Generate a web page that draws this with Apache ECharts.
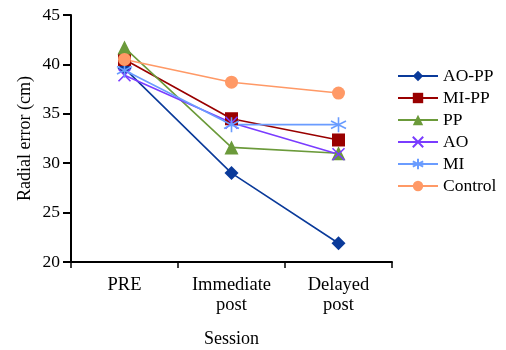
<!DOCTYPE html>
<html>
<head>
<meta charset="utf-8">
<script src="https://cdn.jsdelivr.net/npm/echarts@6/dist/echarts.min.js"></script>
<style>
  html, body { margin: 0; padding: 0; background: #fff; }
  #main { width: 506px; height: 350px; }
</style>
</head>
<body>
<div id="main"></div>
<script>
var sessions = ['PRE', 'Immediate\npost', 'Delayed\npost'];
var aoPP = [39.6, 29.0, 21.9];
var miPP = [40.5, 34.5, 32.35];
var pp = [41.7, 31.6, 31.0];
var ao = [38.9, 34.1, 30.9];
var mi = [39.4, 33.9, 33.9];
var control = [40.5, 38.2, 37.1];
var yTicks = [20, 25, 30, 35, 40, 45];

var crossPath = 'path://M0,0L10,10M10,0L0,10';
var starPath = 'path://M5,0L5,10M0.67,2.5L9.33,7.5M0.67,7.5L9.33,2.5';
var font = '"Liberation Serif", "DejaVu Serif", serif';

function filled(name, data, color, symbol, size) {
  return {
    name: name, type: 'line', data: data,
    symbol: symbol, symbolSize: size,
    lineStyle: { color: color, width: 1.6 },
    itemStyle: { color: color },
    emphasis: { disabled: true }
  };
}
function stroked(name, data, color, symbol, size) {
  return {
    name: name, type: 'line', data: data,
    symbol: symbol, symbolSize: size,
    lineStyle: { color: color, width: 1.6 },
    itemStyle: { color: 'none', borderColor: color, borderWidth: 1.6 },
    emphasis: { disabled: true }
  };
}

var chart = echarts.init(document.getElementById('main'));
chart.setOption({
  animation: false,
  textStyle: { fontFamily: font },
  grid: { left: 71, right: 114, top: 15, bottom: 88, outerBoundsMode: 'none', containLabel: false },
  legend: {
    orient: 'vertical',
    left: 392, top: 62,
    itemWidth: 40, itemHeight: 13, itemGap: 4,
    textStyle: { fontFamily: font, fontSize: 17.5, color: '#000' },
    data: ['AO-PP', 'MI-PP', 'PP', 'AO', 'MI', 'Control']
  },
  xAxis: {
    type: 'category',
    data: sessions,
    boundaryGap: true,
    name: 'Session',
    nameLocation: 'middle',
    nameGap: 68,
    nameTextStyle: { fontFamily: font, fontSize: 18, color: '#000' },
    axisLine: { lineStyle: { color: '#000', width: 2 } },
    axisTick: { show: true, length: 6, lineStyle: { color: '#000', width: 1.5 } },
    axisLabel: { fontFamily: font, fontSize: 18.5, color: '#000', margin: 13, lineHeight: 20 }
  },
  yAxis: {
    type: 'value',
    min: 20, max: 45, interval: 5,
    name: 'Radial error (cm)',
    nameLocation: 'middle',
    nameGap: 37,
    nameMoveOverlap: false,
    nameTextStyle: { fontFamily: font, fontSize: 18, color: '#000' },
    axisLine: { show: true, lineStyle: { color: '#000', width: 2 } },
    axisTick: { show: true, length: 8, lineStyle: { color: '#000', width: 2 } },
    axisLabel: {
      fontFamily: font, fontSize: 17.5, color: '#000', margin: 11,
      formatter: function (v) { return yTicks.indexOf(v) >= 0 ? String(v) : ''; }
    },
    splitLine: { show: false }
  },
  series: [
    filled('AO-PP', aoPP, '#0a3a9a', 'diamond', 14),
    filled('MI-PP', miPP, '#990000', 'rect', 13),
    filled('PP', pp, '#6b9a3a', 'triangle', 14),
    stroked('AO', ao, '#7a3cff', crossPath, 12),
    stroked('MI', mi, '#6a9cff', starPath, 15),
    filled('Control', control, '#ff9966', 'circle', 13)
  ]
});
</script>
</body>
</html>
